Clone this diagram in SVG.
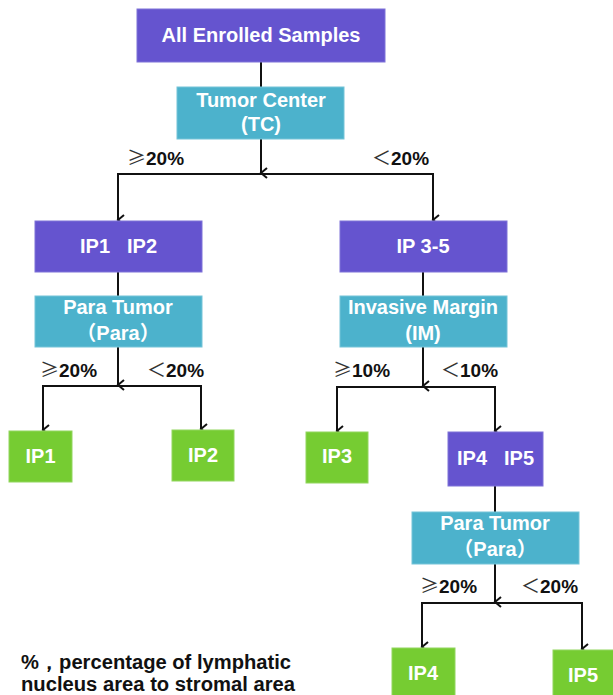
<svg xmlns="http://www.w3.org/2000/svg" width="613" height="695" viewBox="0 0 613 695">
<style>
.pur{fill:#6554cf;stroke:#7f72d8;stroke-width:1}
.cy{fill:#4cb2cc;stroke:#74c4d8;stroke-width:1}
.gr{fill:#76cc32;stroke:#92d65e;stroke-width:1}
.t{font-family:"Liberation Sans",Arial,sans-serif;font-weight:bold;fill:#fff;text-anchor:middle;font-size:20px}
.lbl{font-family:"Liberation Sans",Arial,sans-serif;font-weight:bold;fill:#111;font-size:19px}
.sym{font-family:"Noto Sans CJK SC","DejaVu Sans",sans-serif;font-weight:normal;fill:#333}
.wsym{font-family:"Noto Sans CJK SC","DejaVu Sans",sans-serif;font-weight:bold;fill:#fff}
.ln{stroke:#111;stroke-width:2;fill:none}
.foot{font-family:"Liberation Sans",Arial,sans-serif;font-weight:bold;fill:#111;font-size:20px}
</style>
<defs>
<marker id="ar" markerWidth="12" markerHeight="10" refX="6" refY="8" orient="auto-start-reverse" markerUnits="userSpaceOnUse" viewBox="0 0 12 10">
<path d="M1,2 L6,8 L11,2" fill="none" stroke="#111" stroke-width="2"/>
</marker>
</defs>

<g id="connectors">
<line class="ln" x1="261" y1="62" x2="261" y2="87"/>
<line class="ln" x1="261" y1="139" x2="261" y2="173" marker-end="url(#ar)"/>
<polyline class="ln" points="118,220 118,174 433,174 433,220" marker-start="url(#ar)" marker-end="url(#ar)"/>
<line class="ln" x1="118" y1="272" x2="118" y2="296"/>
<line class="ln" x1="118" y1="347" x2="118" y2="385" marker-end="url(#ar)"/>
<polyline class="ln" points="43,430 43,386 201,386 201,429" marker-start="url(#ar)" marker-end="url(#ar)"/>
<line class="ln" x1="423" y1="272" x2="423" y2="296"/>
<line class="ln" x1="423" y1="347" x2="423" y2="386" marker-end="url(#ar)"/>
<polyline class="ln" points="337,431 337,387 495,387 495,431" marker-start="url(#ar)" marker-end="url(#ar)"/>
<line class="ln" x1="495" y1="486" x2="495" y2="512"/>
<line class="ln" x1="495" y1="564" x2="495" y2="602" marker-end="url(#ar)"/>
<polyline class="ln" points="422,647 422,603 582,603 582,649" marker-start="url(#ar)" marker-end="url(#ar)"/>
</g>

<g id="labels">
<text class="lbl" x="127" y="165"><tspan class="sym">≥</tspan>20%</text>
<text class="lbl" x="372" y="165"><tspan class="sym">＜</tspan>20%</text>
<text class="lbl" x="40" y="377"><tspan class="sym">≥</tspan>20%</text>
<text class="lbl" x="147" y="377"><tspan class="sym">＜</tspan>20%</text>
<text class="lbl" x="333" y="377"><tspan class="sym">≥</tspan>10%</text>
<text class="lbl" x="441" y="377"><tspan class="sym">＜</tspan>10%</text>
<text class="lbl" x="420" y="593"><tspan class="sym">≥</tspan>20%</text>
<text class="lbl" x="521" y="593"><tspan class="sym">＜</tspan>20%</text>
</g>

<g id="all">
<rect class="pur" x="137" y="9" width="248" height="53"/>
<text class="t" x="261" y="42">All Enrolled Samples</text>
</g>
<g id="tc">
<rect class="cy" x="177" y="87" width="167" height="52"/>
<text class="t" x="261" y="107">Tumor Center</text>
<text class="t" x="261" y="131">(TC)</text>
</g>
<g id="ip12">
<rect class="pur" x="35" y="221" width="167" height="51"/>
<text class="t" y="253"><tspan x="95">IP1</tspan><tspan x="142">IP2</tspan></text>
</g>
<g id="para1">
<rect class="cy" x="35" y="296" width="167" height="51"/>
<text class="t" x="118" y="314">Para Tumor</text>
<text class="t" x="118" y="340"><tspan class="wsym">（</tspan>Para<tspan class="wsym">）</tspan></text>
</g>
<g id="ip1">
<rect class="gr" x="9" y="431" width="63" height="51"/>
<text class="t" x="40.5" y="463">IP1</text>
</g>
<g id="ip2">
<rect class="gr" x="172" y="430" width="62" height="51"/>
<text class="t" x="203" y="462">IP2</text>
</g>
<g id="ip35">
<rect class="pur" x="340" y="221" width="167" height="51"/>
<text class="t" x="423" y="253">IP 3-5</text>
</g>
<g id="im">
<rect class="cy" x="340" y="296" width="167" height="51"/>
<text class="t" x="423" y="314">Invasive Margin</text>
<text class="t" x="423" y="340">(IM)</text>
</g>
<g id="ip3">
<rect class="gr" x="306" y="432" width="62" height="51"/>
<text class="t" x="337" y="463">IP3</text>
</g>
<g id="ip45">
<rect class="pur" x="448" y="432" width="95" height="54"/>
<text class="t" y="465"><tspan x="472">IP4</tspan><tspan x="519">IP5</tspan></text>
</g>
<g id="para2">
<rect class="cy" x="412" y="512" width="167" height="52"/>
<text class="t" x="495" y="530">Para Tumor</text>
<text class="t" x="495" y="556"><tspan class="wsym">（</tspan>Para<tspan class="wsym">）</tspan></text>
</g>
<g id="ip4">
<rect class="gr" x="392" y="648" width="63" height="50"/>
<text class="t" x="423" y="680">IP4</text>
</g>
<g id="ip5">
<rect class="gr" x="553" y="650" width="62" height="50"/>
<text class="t" x="583" y="682">IP5</text>
</g>

<g id="footnote">
<text class="foot" x="21" y="669" textLength="270" lengthAdjust="spacingAndGlyphs">%，percentage of lymphatic</text>
<text class="foot" x="21" y="691" textLength="274" lengthAdjust="spacingAndGlyphs">nucleus area to stromal area</text>
</g>
</svg>
